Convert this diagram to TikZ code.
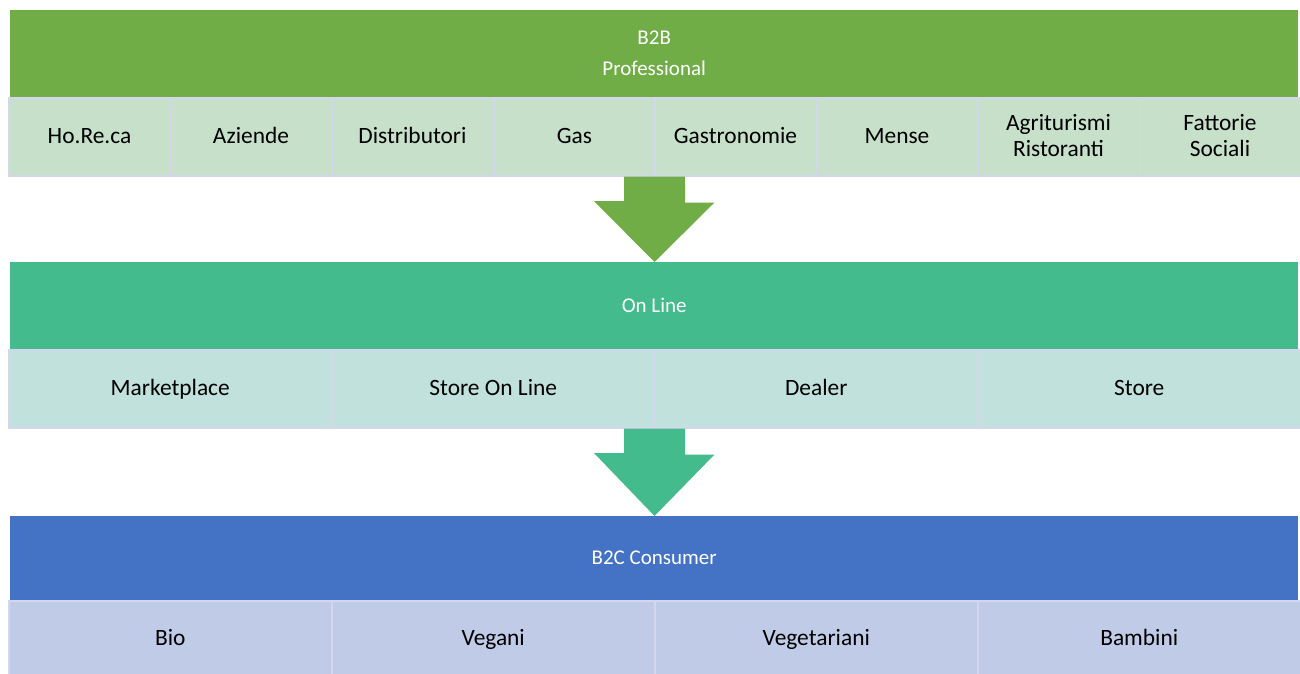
\documentclass[tikz,border=0pt]{standalone}
\usepackage{fontspec}
\setmainfont{Carlito}
\usetikzlibrary{positioning}
\usetikzlibrary{calc}

\definecolor{bbgreen}{HTML}{70AD47}
\definecolor{bbgreenlt}{HTML}{C6E0CA}
\definecolor{onteal}{HTML}{43BB8C}
\definecolor{ontealt}{HTML}{C0E1DC}
\definecolor{bcblue}{HTML}{4472C4}
\definecolor{bcbluelt}{HTML}{C0CCE7}
\definecolor{cellline}{HTML}{D3D6EC}

\tikzset{
  header/.style={rectangle, inner sep=0pt, minimum width=1288pt, text=white,
                 align=center, font=\fontsize{21}{31}\selectfont},
  cell/.style={rectangle, draw=cellline, line width=1.5pt, inner sep=0pt,
               align=center, text height=17.5pt, text depth=3.5pt,
               font=\fontsize{23.4}{26}\selectfont},
  twoline/.style={text height=43.5pt, text depth=3.5pt},
}

\begin{document}
\begin{tikzpicture}[x=1pt, y=-1pt]
	\useasboundingbox (0,0) rectangle (1300,673);

	% B2B
	\node[header, fill=bbgreen, minimum height=87pt, anchor=north west] (b2b) at (10,10) {B2B\\Professional};
	\begin{scope}[every node/.style={cell, fill=bbgreenlt, minimum width=161.5pt, minimum height=78pt, anchor=north west}]
		\node (horeca) at (8,97) {Ho.Re.ca};
		\node (aziende) at (169.5,97) {Aziende};
		\node (distrib) at (331,97) {Distributori};
		\node (gas) at (493,97) {Gas};
		\node (gastro) at (654,97) {Gastronomie};
		\node (mense) at (815.5,97) {Mense};
		\node[twoline] (agri) at (977,97) {Agriturismi\\Ristoranti};
		\node[twoline] (fattorie) at (1138.5,97) {Fattorie\\Sociali};
	\end{scope}

	% On Line
	\node[header, fill=onteal, minimum height=87pt, anchor=north west] (online) at (10,262) {On Line};
	\begin{scope}[every node/.style={cell, fill=ontealt, minimum width=323pt, minimum height=78pt, anchor=north west}]
		\node (market) at (8,349) {Marketplace};
		\node (store1) at (331,349) {Store On Line};
		\node (dealer) at (654,349) {Dealer};
		\node (store2) at (977,349) {Store};
	\end{scope}

	% B2C
	\node[header, fill=bcblue, minimum height=84pt, anchor=north west] (b2c) at (10,516) {B2C Consumer};
	\begin{scope}[every node/.style={cell, fill=bcbluelt, minimum width=323pt, minimum height=76pt, anchor=north west}]
		\node (bio) at (8,600) {Bio};
		\node (vegani) at (331,600) {Vegani};
		\node (veget) at (654,600) {Vegetariani};
		\node (bambini) at (977,600) {Bambini};
	\end{scope}

	% block arrows
	\coordinate (arrA) at ($(gastro.south west)+(0.5,0)$);
	\coordinate (arrB) at ($(dealer.south west)+(0.5,0)$);
	\fill[bbgreen] (arrA) ++(-30.5,0) -- ++(61,0) -- ++(0,26) -- ++(29.5,0)
		-- (arrA |- online.north) -- ++(-60.5,-61) -- ++(30,0) -- cycle;
	\fill[onteal] (arrB) ++(-30.5,0) -- ++(61,0) -- ++(0,26) -- ++(29.5,0)
		-- (arrB |- b2c.north) -- ++(-60.5,-63) -- ++(30,0) -- cycle;
\end{tikzpicture}
\end{document}
